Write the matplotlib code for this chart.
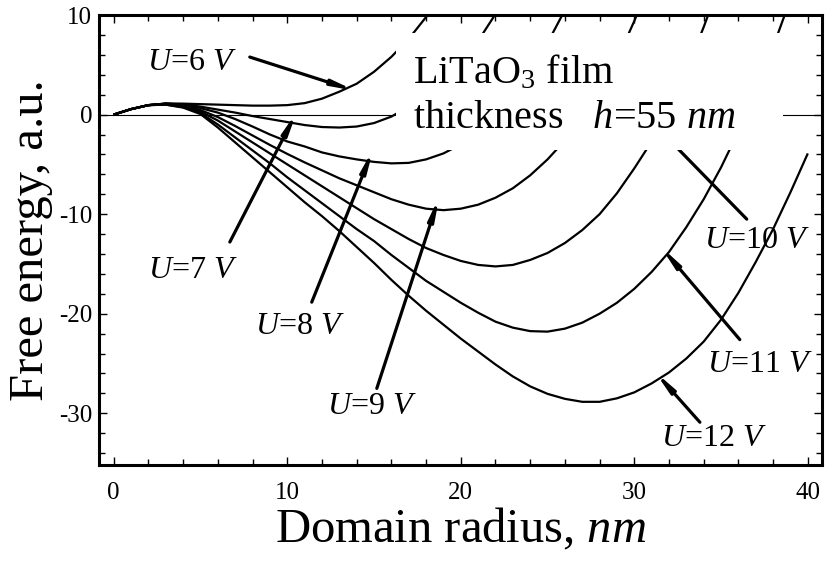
import matplotlib
matplotlib.use("Agg")
import numpy as np
import matplotlib.pyplot as plt
from matplotlib.patches import Rectangle
from matplotlib.ticker import MultipleLocator

plt.rcParams['font.family'] = ['Liberation Serif', 'DejaVu Serif']
plt.rcParams['mathtext.fontset'] = 'custom'
plt.rcParams['mathtext.rm'] = 'Liberation Serif'
plt.rcParams['mathtext.it'] = 'Liberation Serif:italic'
plt.rcParams['axes.unicode_minus'] = False

# ---- data ----
r6 = [0, 1, 2, 3, 4, 5, 6, 7, 8, 9, 10, 11, 12, 13, 14, 15, 16, 17, 18, 19]
F6 = [0, 0.55, 0.95, 1.1, 1.1, 1.05, 1.0, 0.95, 0.9, 0.9, 0.95, 1.15, 1.6, 2.3,
      3.1, 4.3, 5.8, 7.6, 9.8, 12.3]

r7 = [0, 1, 2, 3, 4, 5, 6, 7, 8, 9, 10, 11, 12, 13, 14, 15, 16, 17, 18, 19, 20,
      21, 22]
F7 = [0, 0.55, 0.95, 1.1, 1.05, 0.8, 0.5, 0.2, -0.15, -0.45, -0.75, -1.05,
      -1.25, -1.3, -1.2, -0.85, -0.2, 0.8, 2.0, 3.4, 5.2, 7.4, 10.1]

r8 = [0, 1, 2, 3, 4, 5, 6, 7, 8, 9, 10, 11, 12, 13, 14, 15, 16, 17, 18, 19, 20,
      21, 22, 23, 24, 25, 26]
F8 = [0, 0.55, 0.95, 1.1, 1.0, 0.65, 0.2, -0.45, -1.2, -2.0, -2.7, -3.2, -3.8,
      -4.2, -4.5, -4.75, -4.9, -4.85, -4.5, -3.9, -3.0, -1.9, -0.4, 1.5, 4.2,
      7.2, 10.5]

r9 = [0, 1, 2, 3, 4, 5, 6, 7, 8, 9, 10, 11, 12, 13, 14, 15, 16, 17, 18, 19, 20,
      21, 22, 23, 24, 25, 26, 27, 28, 29, 30, 31]
F9 = [0, 0.55, 0.95, 1.1, 0.95, 0.45, -0.25, -1.15, -2.1, -3.05, -3.95, -4.8,
      -5.6, -6.4, -7.1, -7.8, -8.5, -9.05, -9.45, -9.6, -9.45, -9.05, -8.35,
      -7.4, -6.1, -4.5, -2.6, -0.5, 2.2, 5.5, 9.4, 13.6]

r10 = [0, 1, 2, 3, 4, 5, 6, 7, 8, 9, 10, 11, 12, 13, 14, 15, 16, 17, 18, 19,
       20, 21, 22, 23, 24, 25, 26, 27, 28, 29, 30, 31, 32, 33, 34, 35]
F10 = [0, 0.55, 0.95, 1.05, 0.85, 0.3, -0.6, -1.7, -2.8, -3.9, -5.0, -6.1,
       -7.2, -8.3, -9.4, -10.5, -11.5, -12.5, -13.4, -14.1, -14.7, -15.1,
       -15.25, -15.1, -14.6, -13.9, -12.9, -11.6, -10.0, -7.9, -5.4, -2.7,
       0.6, 4.4, 8.8, 13.5]

r11 = [0, 1, 2, 3, 4, 5, 6, 7, 8, 9, 10, 11, 12, 13, 14, 15, 16, 17, 18, 19,
       20, 21, 22, 23, 24, 25, 26, 27, 28, 29, 30, 31, 32, 33, 34, 35, 36, 37,
       38, 39]
F11 = [0, 0.55, 0.95, 1.0, 0.75, 0.15, -1.0, -2.3, -3.6, -4.9, -6.3, -7.6,
       -8.9, -10.2, -11.5, -12.7, -14.1, -15.4, -16.7, -17.8, -18.9, -19.9,
       -20.8, -21.4, -21.75, -21.8, -21.5, -20.9, -20.0, -18.9, -17.5, -15.8,
       -13.8, -11.3, -8.5, -5.3, -1.7, 2.3, 6.8, 11.6]

r12 = [0, 1, 2, 3, 4, 5, 6, 7, 8, 9, 10, 11, 12, 13, 14, 15, 16, 17, 18, 19,
       20, 21, 22, 23, 24, 25, 26, 27, 28, 29, 30, 31, 32, 33, 34, 35, 36, 37,
       38, 39, 40]
F12 = [0, 0.55, 0.95, 1.0, 0.7, 0.05, -1.3, -2.8, -4.3, -5.8, -7.3, -8.8,
       -10.2, -11.7, -13.3, -14.9, -16.6, -18.2, -19.7, -21.1, -22.5, -23.8,
       -25.1, -26.3, -27.3, -28.05, -28.55, -28.85, -28.85, -28.5, -27.9,
       -27.0, -25.9, -24.5, -22.8, -20.6, -17.9, -14.8, -11.5, -7.8, -3.9]

curves = [(r6, F6), (r7, F7), (r8, F8), (r9, F9), (r10, F10), (r11, F11),
          (r12, F12)]

voltages = ["6", "7", "8", "9", "10", "11", "12"]
# label centre, arrow start, arrow tip (data coordinates)
label_pos = [(4.5, 5.2), (4.55, -15.7), (10.72, -21.3), (14.87, -29.3),
             (37.06, -12.6), (37.23, -25.1), (34.58, -32.5)]
arrow_from = [(7.84, 5.78), (6.69, -12.8), (11.41, -18.84), (15.16, -27.5),
              (36.48, -10.5), (36.08, -22.6), (33.78, -30.9)]
arrow_to = [(13.43, 2.66), (10.32, -0.5), (14.76, -4.3), (18.6, -9.1),
            (31.47, -1.56), (31.86, -13.95), (31.53, -26.5)]

xticks = [0, 10, 20, 30, 40]
yticks = [10, 0, -10, -20, -30]

# ---- figure ----
fig = plt.figure(figsize=(8.25, 5.63), dpi=100)
ax = fig.add_axes([0.12, 0.174, 0.876, 0.7993])
ax.set_xlim(-0.85, 40.8)
ax.set_ylim(-35.2, 10)

ax.axhline(0, color='k', lw=0.8, zorder=1)
for r, F in curves:
    ax.plot(r, F, color='k', lw=1.6, zorder=2, solid_capstyle='butt')

for v, lp, a0, a1 in zip(voltages, label_pos, arrow_from, arrow_to):
    # the arrow head of '-|>' stops a little short of its target; push it on
    p0 = ax.transData.transform(a0)
    p1 = ax.transData.transform(a1)
    d = (p1 - p0) / np.hypot(*(p1 - p0))
    tip = ax.transData.inverted().transform(p1 + d * 9)
    ax.annotate('', xy=tuple(tip), xytext=a0,
                arrowprops=dict(arrowstyle='-|>,head_length=0.9,head_width=0.12',
                                lw=2.3, color='k', shrinkA=0, shrinkB=0,
                                mutation_scale=13),
                zorder=3)
    ax.text(lp[0], lp[1], r"$U$=" + v + r" $V$", fontsize=23,
            ha='center', va='center', zorder=7)

# white box with the film annotation
ax.add_patch(Rectangle((16.25, -3.57), 38.55 - 16.25, 8.2 + 3.57,
                       facecolor='white', edgecolor='none', zorder=5))
ax.text(17.23, 3.17, r"LiTaO$_3$ film", fontsize=29, ha='left',
        va='baseline', zorder=6)
ax.text(17.23, -1.36, r"thickness   $h$=55 $nm$", fontsize=29, ha='left',
        va='baseline', zorder=6)

ax.set_xticks(xticks)
ax.set_yticks(yticks)
ax.xaxis.set_minor_locator(MultipleLocator(2))
ax.yaxis.set_minor_locator(MultipleLocator(2))
ax.tick_params(which='both', direction='in', top=True, right=True,
               width=1.0, labelsize=18)
ax.tick_params(which='major', length=6)
ax.tick_params(which='minor', length=4)
ax.tick_params(axis='x', pad=12)
ax.tick_params(axis='y', pad=5)
for s in ax.spines.values():
    s.set_linewidth(2.2)

ax.set_xlabel(r"Domain radius, $nm$", fontsize=35, labelpad=2)
ax.set_ylabel("Free energy, a.u.", fontsize=35, labelpad=4)

fig.savefig("out.png", dpi=100)
